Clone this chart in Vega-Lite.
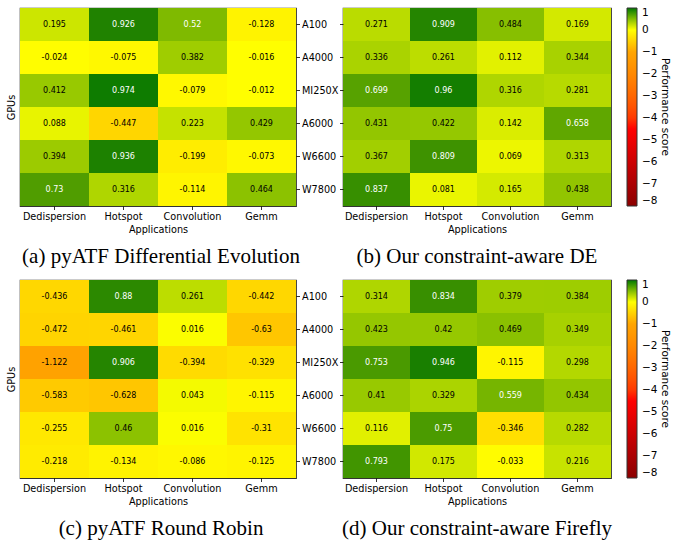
{
  "$schema": "https://vega.github.io/schema/vega-lite/v6.json",
  "padding": {"left": 5, "top": 7, "right": 0, "bottom": 0},
  "background": "white",
  "datasets": {
    "scores": [
      {"panel": "a", "gpu": "A100", "app": "Dedispersion", "v": 0.195},
      {"panel": "a", "gpu": "A100", "app": "Hotspot", "v": 0.926},
      {"panel": "a", "gpu": "A100", "app": "Convolution", "v": 0.52},
      {"panel": "a", "gpu": "A100", "app": "Gemm", "v": -0.128},
      {"panel": "a", "gpu": "A4000", "app": "Dedispersion", "v": -0.024},
      {"panel": "a", "gpu": "A4000", "app": "Hotspot", "v": -0.075},
      {"panel": "a", "gpu": "A4000", "app": "Convolution", "v": 0.382},
      {"panel": "a", "gpu": "A4000", "app": "Gemm", "v": -0.016},
      {"panel": "a", "gpu": "MI250X", "app": "Dedispersion", "v": 0.412},
      {"panel": "a", "gpu": "MI250X", "app": "Hotspot", "v": 0.974},
      {"panel": "a", "gpu": "MI250X", "app": "Convolution", "v": -0.079},
      {"panel": "a", "gpu": "MI250X", "app": "Gemm", "v": -0.012},
      {"panel": "a", "gpu": "A6000", "app": "Dedispersion", "v": 0.088},
      {"panel": "a", "gpu": "A6000", "app": "Hotspot", "v": -0.447},
      {"panel": "a", "gpu": "A6000", "app": "Convolution", "v": 0.223},
      {"panel": "a", "gpu": "A6000", "app": "Gemm", "v": 0.429},
      {"panel": "a", "gpu": "W6600", "app": "Dedispersion", "v": 0.394},
      {"panel": "a", "gpu": "W6600", "app": "Hotspot", "v": 0.936},
      {"panel": "a", "gpu": "W6600", "app": "Convolution", "v": -0.199},
      {"panel": "a", "gpu": "W6600", "app": "Gemm", "v": -0.073},
      {"panel": "a", "gpu": "W7800", "app": "Dedispersion", "v": 0.73},
      {"panel": "a", "gpu": "W7800", "app": "Hotspot", "v": 0.316},
      {"panel": "a", "gpu": "W7800", "app": "Convolution", "v": -0.114},
      {"panel": "a", "gpu": "W7800", "app": "Gemm", "v": 0.464},

      {"panel": "b", "gpu": "A100", "app": "Dedispersion", "v": 0.271},
      {"panel": "b", "gpu": "A100", "app": "Hotspot", "v": 0.909},
      {"panel": "b", "gpu": "A100", "app": "Convolution", "v": 0.484},
      {"panel": "b", "gpu": "A100", "app": "Gemm", "v": 0.169},
      {"panel": "b", "gpu": "A4000", "app": "Dedispersion", "v": 0.336},
      {"panel": "b", "gpu": "A4000", "app": "Hotspot", "v": 0.261},
      {"panel": "b", "gpu": "A4000", "app": "Convolution", "v": 0.112},
      {"panel": "b", "gpu": "A4000", "app": "Gemm", "v": 0.344},
      {"panel": "b", "gpu": "MI250X", "app": "Dedispersion", "v": 0.699},
      {"panel": "b", "gpu": "MI250X", "app": "Hotspot", "v": 0.96},
      {"panel": "b", "gpu": "MI250X", "app": "Convolution", "v": 0.316},
      {"panel": "b", "gpu": "MI250X", "app": "Gemm", "v": 0.281},
      {"panel": "b", "gpu": "A6000", "app": "Dedispersion", "v": 0.431},
      {"panel": "b", "gpu": "A6000", "app": "Hotspot", "v": 0.422},
      {"panel": "b", "gpu": "A6000", "app": "Convolution", "v": 0.142},
      {"panel": "b", "gpu": "A6000", "app": "Gemm", "v": 0.658},
      {"panel": "b", "gpu": "W6600", "app": "Dedispersion", "v": 0.367},
      {"panel": "b", "gpu": "W6600", "app": "Hotspot", "v": 0.809},
      {"panel": "b", "gpu": "W6600", "app": "Convolution", "v": 0.069},
      {"panel": "b", "gpu": "W6600", "app": "Gemm", "v": 0.313},
      {"panel": "b", "gpu": "W7800", "app": "Dedispersion", "v": 0.837},
      {"panel": "b", "gpu": "W7800", "app": "Hotspot", "v": 0.081},
      {"panel": "b", "gpu": "W7800", "app": "Convolution", "v": 0.165},
      {"panel": "b", "gpu": "W7800", "app": "Gemm", "v": 0.438},

      {"panel": "c", "gpu": "A100", "app": "Dedispersion", "v": -0.436},
      {"panel": "c", "gpu": "A100", "app": "Hotspot", "v": 0.88},
      {"panel": "c", "gpu": "A100", "app": "Convolution", "v": 0.261},
      {"panel": "c", "gpu": "A100", "app": "Gemm", "v": -0.442},
      {"panel": "c", "gpu": "A4000", "app": "Dedispersion", "v": -0.472},
      {"panel": "c", "gpu": "A4000", "app": "Hotspot", "v": -0.461},
      {"panel": "c", "gpu": "A4000", "app": "Convolution", "v": 0.016},
      {"panel": "c", "gpu": "A4000", "app": "Gemm", "v": -0.63},
      {"panel": "c", "gpu": "MI250X", "app": "Dedispersion", "v": -1.122},
      {"panel": "c", "gpu": "MI250X", "app": "Hotspot", "v": 0.906},
      {"panel": "c", "gpu": "MI250X", "app": "Convolution", "v": -0.394},
      {"panel": "c", "gpu": "MI250X", "app": "Gemm", "v": -0.329},
      {"panel": "c", "gpu": "A6000", "app": "Dedispersion", "v": -0.583},
      {"panel": "c", "gpu": "A6000", "app": "Hotspot", "v": -0.628},
      {"panel": "c", "gpu": "A6000", "app": "Convolution", "v": 0.043},
      {"panel": "c", "gpu": "A6000", "app": "Gemm", "v": -0.115},
      {"panel": "c", "gpu": "W6600", "app": "Dedispersion", "v": -0.255},
      {"panel": "c", "gpu": "W6600", "app": "Hotspot", "v": 0.46},
      {"panel": "c", "gpu": "W6600", "app": "Convolution", "v": 0.016},
      {"panel": "c", "gpu": "W6600", "app": "Gemm", "v": -0.31},
      {"panel": "c", "gpu": "W7800", "app": "Dedispersion", "v": -0.218},
      {"panel": "c", "gpu": "W7800", "app": "Hotspot", "v": -0.134},
      {"panel": "c", "gpu": "W7800", "app": "Convolution", "v": -0.086},
      {"panel": "c", "gpu": "W7800", "app": "Gemm", "v": -0.125},

      {"panel": "d", "gpu": "A100", "app": "Dedispersion", "v": 0.314},
      {"panel": "d", "gpu": "A100", "app": "Hotspot", "v": 0.834},
      {"panel": "d", "gpu": "A100", "app": "Convolution", "v": 0.379},
      {"panel": "d", "gpu": "A100", "app": "Gemm", "v": 0.384},
      {"panel": "d", "gpu": "A4000", "app": "Dedispersion", "v": 0.423},
      {"panel": "d", "gpu": "A4000", "app": "Hotspot", "v": 0.42},
      {"panel": "d", "gpu": "A4000", "app": "Convolution", "v": 0.469},
      {"panel": "d", "gpu": "A4000", "app": "Gemm", "v": 0.349},
      {"panel": "d", "gpu": "MI250X", "app": "Dedispersion", "v": 0.753},
      {"panel": "d", "gpu": "MI250X", "app": "Hotspot", "v": 0.946},
      {"panel": "d", "gpu": "MI250X", "app": "Convolution", "v": -0.115},
      {"panel": "d", "gpu": "MI250X", "app": "Gemm", "v": 0.298},
      {"panel": "d", "gpu": "A6000", "app": "Dedispersion", "v": 0.41},
      {"panel": "d", "gpu": "A6000", "app": "Hotspot", "v": 0.329},
      {"panel": "d", "gpu": "A6000", "app": "Convolution", "v": 0.559},
      {"panel": "d", "gpu": "A6000", "app": "Gemm", "v": 0.434},
      {"panel": "d", "gpu": "W6600", "app": "Dedispersion", "v": 0.116},
      {"panel": "d", "gpu": "W6600", "app": "Hotspot", "v": 0.75},
      {"panel": "d", "gpu": "W6600", "app": "Convolution", "v": -0.346},
      {"panel": "d", "gpu": "W6600", "app": "Gemm", "v": 0.282},
      {"panel": "d", "gpu": "W7800", "app": "Dedispersion", "v": 0.793},
      {"panel": "d", "gpu": "W7800", "app": "Hotspot", "v": 0.175},
      {"panel": "d", "gpu": "W7800", "app": "Convolution", "v": -0.033},
      {"panel": "d", "gpu": "W7800", "app": "Gemm", "v": 0.216}
    ]
  },
  "data": {"name": "scores"},
  "columns": 2,
  "bounds": "flush",
  "spacing": {"row": 74, "column": 47},
  "resolve": {"scale": {"color": "independent"}},
  "concat": [
    {
      "width": 276, "height": 198,
      "title": {"text": "(a) pyATF Differential Evolution", "dx": 3},
      "transform": [{"filter": "datum.panel === 'a'"}],
      "layer": [
        {
          "mark": "rect",
          "encoding": {
            "x": {"field": "app", "type": "nominal", "sort": ["Dedispersion", "Hotspot", "Convolution", "Gemm"], "scale": {"paddingInner": 0, "paddingOuter": 0}, "axis": {"title": "Applications", "labelAngle": 0}},
            "y": {"field": "gpu", "type": "nominal", "sort": ["A100", "A4000", "MI250X", "A6000", "W6600", "W7800"], "scale": {"paddingInner": 0, "paddingOuter": 0}, "axis": {"orient": "right", "title": null}},
            "color": {"field": "v", "type": "quantitative", "scale": {"domain": [-8, -4.5, -1, 0, 1], "range": ["#8b0000", "#ff0000", "#ffa500", "#ffff00", "#007800"]}, "legend": null}
          }
        },
        {
          "mark": {"type": "text", "fontSize": 8},
          "encoding": {
            "x": {"field": "app", "type": "nominal", "sort": ["Dedispersion", "Hotspot", "Convolution", "Gemm"]},
            "y": {"field": "gpu", "type": "nominal", "sort": ["A100", "A4000", "MI250X", "A6000", "W6600", "W7800"], "axis": {"orient": "left", "labels": false, "ticks": false, "title": "GPUs", "titlePadding": 4}},
            "text": {"field": "v", "type": "nominal"},
            "color": {"condition": {"test": "datum.v > 0.5", "value": "#ffffff"}, "value": "#000000"}
          }
        }
      ],
      "resolve": {"axis": {"y": "independent"}}
    },
    {
      "width": 268, "height": 198,
      "title": {"text": "(b) Our constraint-aware DE"},
      "transform": [{"filter": "datum.panel === 'b'"}],
      "layer": [
        {
          "mark": "rect",
          "encoding": {
            "x": {"field": "app", "type": "nominal", "sort": ["Dedispersion", "Hotspot", "Convolution", "Gemm"], "scale": {"paddingInner": 0, "paddingOuter": 0}, "axis": {"title": "Applications", "labelAngle": 0}},
            "y": {"field": "gpu", "type": "nominal", "sort": ["A100", "A4000", "MI250X", "A6000", "W6600", "W7800"], "scale": {"paddingInner": 0, "paddingOuter": 0}, "axis": {"orient": "left", "title": null, "labels": false}},
            "color": {"field": "v", "type": "quantitative", "scale": {"domain": [-8, -4.5, -1, 0, 1], "range": ["#8b0000", "#ff0000", "#ffa500", "#ffff00", "#007800"]},
              "legend": {"orient": "right", "offset": 16, "gradientLength": 198, "gradientThickness": 10, "values": [1, 0, -1, -2, -3, -4, -5, -6, -7, -8], "format": "d", "title": "Performance score", "titleOrient": "right", "titleAnchor": "middle", "titlePadding": 3, "direction": "vertical", "labelBaseline": "middle", "labelOffset": 5, "labelOverlap": false, "gradientStrokeColor": "#333333", "gradientStrokeWidth": 1}}
          }
        },
        {
          "mark": {"type": "text", "fontSize": 8},
          "encoding": {
            "x": {"field": "app", "type": "nominal", "sort": ["Dedispersion", "Hotspot", "Convolution", "Gemm"]},
            "y": {"field": "gpu", "type": "nominal", "sort": ["A100", "A4000", "MI250X", "A6000", "W6600", "W7800"]},
            "text": {"field": "v", "type": "nominal"},
            "color": {"condition": {"test": "datum.v > 0.5", "value": "#ffffff"}, "value": "#000000"}
          }
        }
      ]
    },
    {
      "width": 276, "height": 198,
      "title": {"text": "(c) pyATF Round Robin", "dx": 3},
      "transform": [{"filter": "datum.panel === 'c'"}],
      "layer": [
        {
          "mark": "rect",
          "encoding": {
            "x": {"field": "app", "type": "nominal", "sort": ["Dedispersion", "Hotspot", "Convolution", "Gemm"], "scale": {"paddingInner": 0, "paddingOuter": 0}, "axis": {"title": "Applications", "labelAngle": 0}},
            "y": {"field": "gpu", "type": "nominal", "sort": ["A100", "A4000", "MI250X", "A6000", "W6600", "W7800"], "scale": {"paddingInner": 0, "paddingOuter": 0}, "axis": {"orient": "right", "title": null}},
            "color": {"field": "v", "type": "quantitative", "scale": {"domain": [-8, -4.5, -1, 0, 1], "range": ["#8b0000", "#ff0000", "#ffa500", "#ffff00", "#007800"]}, "legend": null}
          }
        },
        {
          "mark": {"type": "text", "fontSize": 8},
          "encoding": {
            "x": {"field": "app", "type": "nominal", "sort": ["Dedispersion", "Hotspot", "Convolution", "Gemm"]},
            "y": {"field": "gpu", "type": "nominal", "sort": ["A100", "A4000", "MI250X", "A6000", "W6600", "W7800"], "axis": {"orient": "left", "labels": false, "ticks": false, "title": "GPUs", "titlePadding": 4}},
            "text": {"field": "v", "type": "nominal"},
            "color": {"condition": {"test": "datum.v > 0.5", "value": "#ffffff"}, "value": "#000000"}
          }
        }
      ],
      "resolve": {"axis": {"y": "independent"}}
    },
    {
      "width": 268, "height": 198,
      "title": {"text": "(d) Our constraint-aware Firefly"},
      "transform": [{"filter": "datum.panel === 'd'"}],
      "layer": [
        {
          "mark": "rect",
          "encoding": {
            "x": {"field": "app", "type": "nominal", "sort": ["Dedispersion", "Hotspot", "Convolution", "Gemm"], "scale": {"paddingInner": 0, "paddingOuter": 0}, "axis": {"title": "Applications", "labelAngle": 0}},
            "y": {"field": "gpu", "type": "nominal", "sort": ["A100", "A4000", "MI250X", "A6000", "W6600", "W7800"], "scale": {"paddingInner": 0, "paddingOuter": 0}, "axis": {"orient": "left", "title": null, "labels": false}},
            "color": {"field": "v", "type": "quantitative", "scale": {"domain": [-8, -4.5, -1, 0, 1], "range": ["#8b0000", "#ff0000", "#ffa500", "#ffff00", "#007800"]},
              "legend": {"orient": "right", "offset": 16, "gradientLength": 198, "gradientThickness": 10, "values": [1, 0, -1, -2, -3, -4, -5, -6, -7, -8], "format": "d", "title": "Performance score", "titleOrient": "right", "titleAnchor": "middle", "titlePadding": 3, "direction": "vertical", "labelBaseline": "middle", "labelOffset": 5, "labelOverlap": false, "gradientStrokeColor": "#333333", "gradientStrokeWidth": 1}}
          }
        },
        {
          "mark": {"type": "text", "fontSize": 8},
          "encoding": {
            "x": {"field": "app", "type": "nominal", "sort": ["Dedispersion", "Hotspot", "Convolution", "Gemm"]},
            "y": {"field": "gpu", "type": "nominal", "sort": ["A100", "A4000", "MI250X", "A6000", "W6600", "W7800"]},
            "text": {"field": "v", "type": "nominal"},
            "color": {"condition": {"test": "datum.v > 0.5", "value": "#ffffff"}, "value": "#000000"}
          }
        }
      ]
    }
  ],
  "config": {
    "font": "DejaVu Sans",
    "view": {"stroke": "#333333", "strokeWidth": 1.2},
    "axis": {"domain": false, "grid": false, "labelFont": "DejaVu Sans", "titleFont": "DejaVu Sans", "labelFontSize": 9.7, "titleFontSize": 9.7, "labelColor": "#000000", "titleColor": "#000000", "titleFontWeight": "normal", "tickColor": "#000000", "tickSize": 3.5, "tickWidth": 0.8, "labelPadding": 2, "titlePadding": 3},
    "legend": {"labelFont": "DejaVu Sans", "titleFont": "DejaVu Sans", "labelFontSize": 10.5, "titleFontSize": 10.5, "labelColor": "#000000", "titleColor": "#000000", "titleFontWeight": "normal", "padding": 0},
    "title": {"orient": "bottom", "anchor": "middle", "font": "Liberation Serif", "fontSize": 21, "fontWeight": "normal", "color": "#000000", "offset": 12}
  }
}
